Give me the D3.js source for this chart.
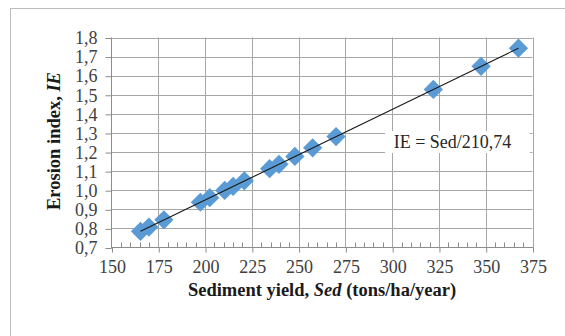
<!DOCTYPE html>
<html>
<head>
<meta charset="utf-8">
<script src="https://cdn.jsdelivr.net/npm/d3@7"></script>
<style>
  html, body { margin: 0; padding: 0; background: #fff; }
  svg { display: block; }
  text { font-family: "Liberation Serif", "Times New Roman", serif; }
</style>
</head>
<body>
<svg id="chart" width="565" height="336"></svg>
<script>
// ---- data ----
const sed = [165.5, 170, 178, 197.5, 202.5, 210.5, 215, 221, 234.5, 239.5, 248, 257.5, 270, 322, 347.5, 367.5];
const ie  = [0.785, 0.807, 0.845, 0.937, 0.961, 0.999, 1.020, 1.049, 1.113, 1.136, 1.177, 1.222, 1.281, 1.528, 1.649, 1.744];
const trendX = [165.5, 367.5];
const trendY = [0.785, 1.744];
const xTicks = [150, 175, 200, 225, 250, 275, 300, 325, 350, 375];
const yTicks = [0.7, 0.8, 0.9, 1.0, 1.1, 1.2, 1.3, 1.4, 1.5, 1.6, 1.7, 1.8];
const equationLabel = "IE = Sed/210,74";

// ---- layout ----
const svg = d3.select("#chart");
const pL = 111.5, pR = 532.5, pT = 37.5, pB = 247.5;
const serif = "Liberation Serif, Times New Roman, serif";

const x = d3.scaleLinear().domain([150, 375]).range([pL, pR]);
const y = d3.scaleLinear().domain([0.7, 1.8]).range([pB, pT]);

// outer chart border
svg.append("rect").attr("x", 10.5).attr("y", 8.5).attr("width", 600).attr("height", 400)
  .attr("fill", "#fff").attr("stroke", "#bdbdbd").attr("stroke-width", 1);

const gridColor = "#a6a6a6";
// horizontal gridlines
svg.append("g").selectAll("line").data(yTicks.slice(1)).join("line")
  .attr("x1", pL).attr("x2", pR)
  .attr("y1", d => Math.round(y(d)) + 0.5).attr("y2", d => Math.round(y(d)) + 0.5)
  .attr("stroke", gridColor).attr("stroke-width", 1);
// vertical gridlines
svg.append("g").selectAll("line").data(xTicks.slice(1)).join("line")
  .attr("x1", d => Math.round(x(d)) + 0.5).attr("x2", d => Math.round(x(d)) + 0.5)
  .attr("y1", pT).attr("y2", pB)
  .attr("stroke", gridColor).attr("stroke-width", 1);

// minor ticks on x axis (inside, every 5)
const minor = d3.range(155, 375, 5).filter(v => v % 25 !== 0);
svg.append("g").selectAll("line").data(minor).join("line")
  .attr("x1", d => Math.round(x(d)) + 0.5).attr("x2", d => Math.round(x(d)) + 0.5)
  .attr("y1", pB - 5).attr("y2", pB)
  .attr("stroke", "#8c8c8c");

// x axis
const xAxis = d3.axisBottom(x).tickValues(xTicks).tickSize(5).tickPadding(8)
  .tickFormat(d3.format("d"));
const gx = svg.append("g").attr("transform", `translate(0.5,${pB})`).call(xAxis)
  .attr("font-family", serif).attr("font-size", 18);
gx.select(".domain").attr("stroke", "#8c8c8c").attr("d", `M${pL - 0.5},0H${pR + 0.5}`);
gx.selectAll(".tick line").attr("stroke", "#8c8c8c");
gx.selectAll("text").attr("fill", "#404040");

// y axis
const yAxis = d3.axisLeft(y).tickValues(yTicks).tickSize(6).tickPadding(8)
  .tickFormat(d => d3.format(".1f")(d).replace(".", ","));
const gy = svg.append("g").attr("transform", `translate(${pL},0.5)`).call(yAxis)
  .attr("font-family", serif).attr("font-size", 18);
gy.select(".domain").attr("stroke", "#8c8c8c").attr("d", `M0,${pT - 0.5}V${pB + 0.5}`);
gy.selectAll(".tick line").attr("stroke", "#8c8c8c");
gy.selectAll("text").attr("fill", "#404040");

// data points (diamonds)
const pts = sed.map((s, i) => ({ s, v: ie[i] }));
const diamond = d3.symbol().type(d3.symbolSquare).size(185);
svg.append("g").selectAll("path").data(pts).join("path")
  .attr("d", diamond)
  .attr("transform", d => `translate(${x(d.s)},${y(d.v)}) rotate(45)`)
  .attr("fill", "#5b9bd5");

// trend line
svg.append("line")
  .attr("x1", x(trendX[0])).attr("y1", y(trendY[0]))
  .attr("x2", x(trendX[1])).attr("y2", y(trendY[1]))
  .attr("stroke", "#1a1a1a").attr("stroke-width", 1.1);

// equation label
svg.append("rect").attr("x", 385).attr("y", 131).attr("width", 145).attr("height", 22)
  .attr("fill", "#fff");
svg.append("text").attr("x", 452.5).attr("y", 148).attr("text-anchor", "middle")
  .attr("font-family", serif).attr("fill", "#262626").attr("font-size", 18).text(equationLabel);

// x axis title
const xt = svg.append("text").attr("x", 322).attr("y", 296).attr("text-anchor", "middle")
  .attr("font-family", serif).attr("fill", "#1a1a1a").attr("font-size", 18.5).attr("font-weight", "bold");
xt.append("tspan").text("Sediment yield, ");
xt.append("tspan").attr("font-style", "italic").text("Sed");
xt.append("tspan").text(" (tons/ha/year)");

// y axis title
const yt = svg.append("text").attr("transform", `translate(60,141) rotate(-90)`)
  .attr("text-anchor", "middle").attr("font-family", serif).attr("fill", "#1a1a1a")
  .attr("font-size", 18.5).attr("font-weight", "bold");
yt.append("tspan").text("Erosion index, ");
yt.append("tspan").attr("font-style", "italic").text("IE");
</script>
</body>
</html>
